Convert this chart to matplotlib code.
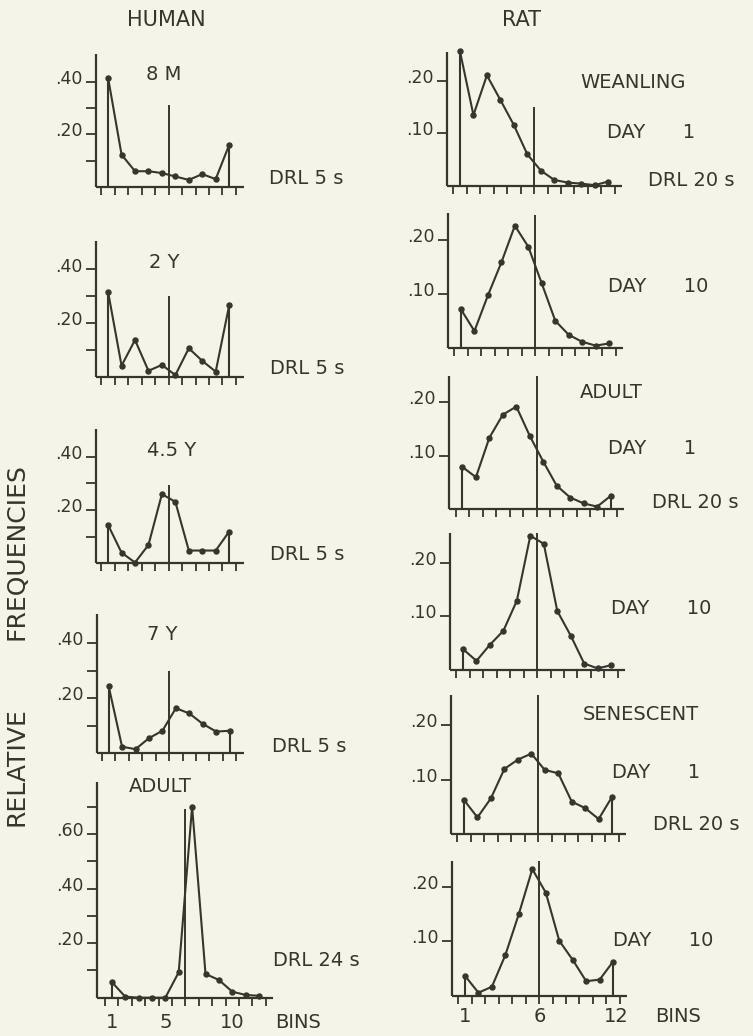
import matplotlib
matplotlib.use('Agg')
import matplotlib.pyplot as plt
from matplotlib.transforms import ScaledTranslation, blended_transform_factory
import numpy as np

W, H = 753, 1036
BG = '#f4f4e8'
INK = '#36362f'
plt.rcParams['font.family'] = ['DejaVu Sans']

# ---------------- data ----------------
human_bins = [1, 2, 3, 4, 5, 6, 7, 8, 9, 10]
human_8m = [0.415, 0.123, 0.06, 0.06, 0.053, 0.04, 0.027, 0.049, 0.03, 0.16]
human_2y = [0.316, 0.041, 0.137, 0.022, 0.044, 0.006, 0.106, 0.059, 0.019, 0.266]
human_45y = [0.144, 0.04, 0.003, 0.069, 0.26, 0.231, 0.048, 0.048, 0.048, 0.119]
human_7y = [0.245, 0.024, 0.015, 0.055, 0.082, 0.164, 0.145, 0.107, 0.079, 0.082]
human_adult_bins = [1, 2, 3, 4, 5, 6, 7, 8, 9, 10, 11, 12]
human_adult = [0.058, 0.004, 0.0, 0.0, 0.0, 0.093, 0.70, 0.087, 0.065, 0.022, 0.01, 0.007]

rat_bins = [1, 2, 3, 4, 5, 6, 7, 8, 9, 10, 11, 12]
rat_weanling_d1 = [0.257, 0.135, 0.211, 0.164, 0.116, 0.06, 0.029, 0.011, 0.006, 0.004, 0.001, 0.008]
rat_weanling_d10 = [0.072, 0.032, 0.098, 0.159, 0.227, 0.188, 0.12, 0.051, 0.025, 0.012, 0.005, 0.009]
rat_adult_d1 = [0.079, 0.06, 0.134, 0.177, 0.192, 0.137, 0.089, 0.044, 0.022, 0.011, 0.005, 0.025]
rat_adult_d10 = [0.039, 0.017, 0.047, 0.073, 0.129, 0.25, 0.235, 0.11, 0.064, 0.012, 0.003, 0.009]
rat_senescent_d1 = [0.063, 0.031, 0.066, 0.12, 0.137, 0.148, 0.118, 0.112, 0.06, 0.048, 0.028, 0.069]
rat_senescent_d10 = [0.037, 0.006, 0.017, 0.075, 0.15, 0.232, 0.189, 0.101, 0.066, 0.027, 0.03, 0.063]

human_criterion = [5.5, 5.5, 5.5, 5.5, 6.5]
human_criterion_top = [0.31, 0.30, 0.295, 0.30, 0.69]
rat_criterion = [6.5, 6.5, 6.5, 6.5, 6.5, 6.5]
rat_criterion_top = [0.15, 0.247, 0.25, 0.255, 0.255, 0.246]

human_titles = ['8 M', '2 Y', '4.5 Y', '7 Y', 'ADULT']
human_drl = ['DRL 5 s', 'DRL 5 s', 'DRL 5 s', 'DRL 5 s', 'DRL 24 s']
human_ytick_labels = ['.20', '.40']
human_adult_ytick_labels = ['.20', '.40', '.60']
rat_ytick_labels = ['.10', '.20']
human_xtick_labels = ['1', '5', '10']
rat_xtick_labels = ['1', '6', '12']

# ---------------- figure ----------------
fig = plt.figure(figsize=(W / 100, H / 100), dpi=100)
fig.patch.set_facecolor(BG)


def fx(x):
    return x / W


def fy(y):
    return 1 - y / H


def panel(spine_px, base_px, px_bin, px01, x0, x1, ytop):
    ax = fig.add_axes([fx(spine_px), fy(base_px), (x1 - x0) * px_bin / W,
                       ytop * 10 * px01 / H])
    ax.set_xlim(x0, x1)
    ax.set_ylim(0, ytop)
    ax.patch.set_alpha(0)
    for s in ['top', 'right']:
        ax.spines[s].set_visible(False)
    for s in ['left', 'bottom']:
        ax.spines[s].set_linewidth(1.6)
        ax.spines[s].set_color(INK)
        ax.spines[s].set_capstyle('butt')
    ax.set_xticks([])
    ax.set_xticks(np.arange(0.5, x1, 1.0), minor=True)
    ax.tick_params(axis='x', which='minor', direction='out', length=6,
                   width=1.3, color=INK)
    ax.tick_params(axis='x', which='major', length=0)
    return ax


def draw(ax, bins, vals, crit, crit_top, drop_first, drop_last):
    ax.plot(bins, vals, '-o', color=INK, lw=1.5, ms=3.6, clip_on=False,
            zorder=3)
    ax.vlines(crit, 0, crit_top, color=INK, lw=1.4, clip_on=False)
    if drop_first:
        ax.vlines(bins[0], 0, vals[0], color=INK, lw=1.5, clip_on=False)
    if drop_last:
        ax.vlines(bins[-1], 0, vals[-1], color=INK, lw=1.5, clip_on=False)


def yaxis(ax, ticks, label_vals, labels, fs=12.5):
    ax.set_yticks(ticks)
    ax.set_yticklabels([])
    ax.tick_params(axis='y', direction='out', length=7, width=1.3, color=INK)
    tr = ax.get_yaxis_transform() + ScaledTranslation(-9.5 / 72, -1.5 / 72,
                                                      fig.dpi_scale_trans)
    for v, lab in zip(label_vals, labels):
        ax.text(0, v, lab, transform=tr, ha='right', va='baseline',
                fontsize=fs, color=INK)


def xlabels(ax, positions, labels, down_px):
    tr = blended_transform_factory(ax.transData, ax.transAxes) + \
        ScaledTranslation(0, -down_px / 100, fig.dpi_scale_trans)
    for p, lab in zip(positions, labels):
        ax.text(p, 0, lab, transform=tr, ha='center', va='center',
                fontsize=14, color=INK)


def ftext(x, y, s, ha='left', fs=14, **kw):
    fig.text(fx(x), fy(y), s, ha=ha, va='center', fontsize=fs, color=INK, **kw)


# ---------------- human column ----------------
human_series = [human_8m, human_2y, human_45y, human_7y]
human_geom = [  # spine_px, baseline_px, px per 0.1
    (96.0, 187.0, 26.3),
    (96.0, 376.7, 26.8),
    (96.0, 563.3, 26.6),
    (96.5, 753.3, 27.5),
]
for i, (vals, g) in enumerate(zip(human_series, human_geom)):
    ax = panel(g[0], g[1], 13.45, g[2], 0.1, 11.1, 0.505)
    draw(ax, human_bins, vals, human_criterion[i], human_criterion_top[i],
         True, True)
    yaxis(ax, [0.1, 0.2, 0.3, 0.4], [0.2, 0.4], human_ytick_labels)

ax = panel(96.7, 997.7, 13.4, 27.3, -0.12, 13.0, 0.79)
draw(ax, human_adult_bins, human_adult, human_criterion[4],
     human_criterion_top[4], True, False)
yaxis(ax, [0.1, 0.2, 0.3, 0.4, 0.5, 0.6, 0.7], [0.2, 0.4, 0.6],
      human_adult_ytick_labels)
xlabels(ax, [1, 5, 10], human_xtick_labels, 25)

# ---------------- rat column ----------------
rat_series = [rat_weanling_d1, rat_weanling_d10, rat_adult_d1, rat_adult_d10,
              rat_senescent_d1, rat_senescent_d10]
rat_geom = [  # spine_px, baseline_px, px per 0.1, ytop
    (446.5, 185.7, 52.3, 0.255),
    (447.5, 348.3, 54.0, 0.25),
    (449.0, 509.3, 53.5, 0.25),
    (449.5, 670.0, 53.7, 0.255),
    (450.5, 834.3, 54.5, 0.255),
    (451.5, 996.0, 54.7, 0.246),
]
rat_drop_last = [False, False, True, False, True, True]
for i, (vals, g) in enumerate(zip(rat_series, rat_geom)):
    ax = panel(g[0], g[1], 13.47, g[2], 0.0, 13.0, g[3])
    draw(ax, rat_bins, vals, rat_criterion[i], rat_criterion_top[i],
         True, rat_drop_last[i])
    yaxis(ax, [0.1, 0.2], [0.1, 0.2], rat_ytick_labels)
    if i == 5:
        xlabels(ax, [1, 6.55, 12.25], rat_xtick_labels, 21)

# ---------------- texts ----------------
ftext(166, 20, 'HUMAN', ha='center', fs=15)
ftext(522, 20, 'RAT', ha='center', fs=15)

human_title_pos = [(164, 75), (164, 262), (172, 450), (162, 635), (160, 787)]
human_drl_pos = [(269, 178), (270, 368), (270, 555), (272, 747), (273, 960)]
for t, p in zip(human_titles, human_title_pos):
    ftext(p[0], p[1], t, ha='center')
for t, p in zip(human_drl, human_drl_pos):
    ftext(p[0], p[1], t)
ftext(275, 1023, 'BINS')

ftext(580, 83, 'WEANLING')
ftext(607, 132, 'DAY      1')
ftext(648, 180, 'DRL 20 s')
ftext(608, 287, 'DAY      10')
ftext(580, 392, 'ADULT')
ftext(608, 448, 'DAY      1')
ftext(652, 502, 'DRL 20 s')
ftext(611, 608, 'DAY      10')
ftext(583, 715, 'SENESCENT')
ftext(612, 772, 'DAY      1')
ftext(653, 825, 'DRL 20 s')
ftext(613, 940, 'DAY      10')
ftext(655, 1017, 'BINS')

fig.text(fx(17), fy(767), 'RELATIVE', rotation=90, ha='center', va='center',
         fontsize=18, color=INK)
fig.text(fx(17), fy(552), 'FREQUENCIES', rotation=90, ha='center',
         va='center', fontsize=18, color=INK)

fig.savefig('out.png', dpi=100, facecolor=BG)
